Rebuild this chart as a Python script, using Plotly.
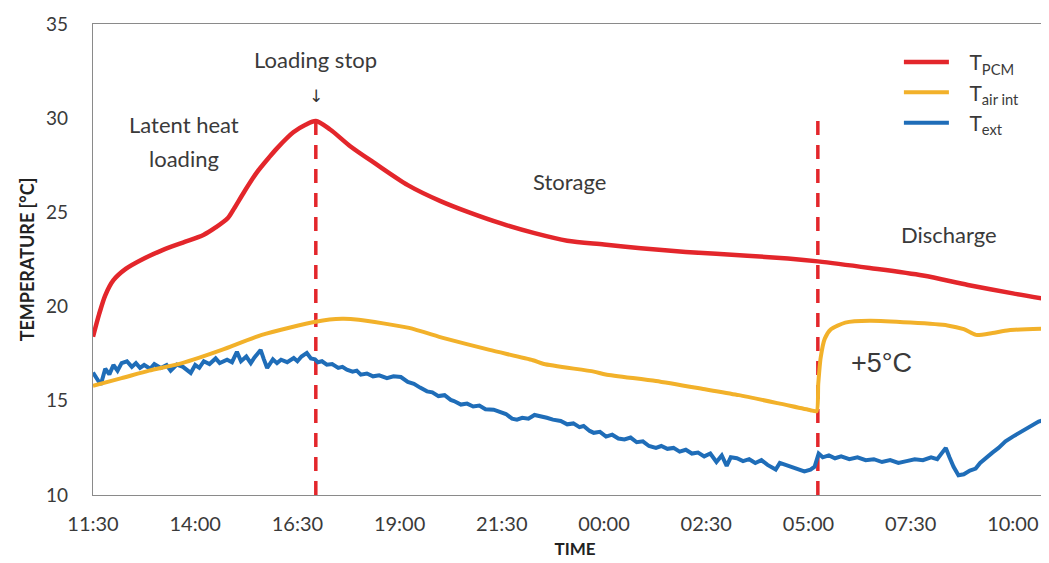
import plotly.graph_objects as go

# ---- data (hours after 11:30) ----
tick_hours = [0, 2.5, 5, 7.5, 10, 12.5, 15, 17.5, 20, 22.5]
tick_labels = ["11:30", "14:00", "16:30", "19:00", "21:30", "00:00", "02:30", "05:00", "07:30", "10:00"]
y_ticks = [10, 15, 20, 25, 30, 35]

pcm_h = [0.0, 0.15, 0.3, 0.5, 0.8, 1.2, 1.7, 2.2, 2.7, 3.0, 3.3, 3.45, 3.7, 4.0, 4.3, 4.5, 4.9, 5.2, 5.45,
         5.8, 6.3, 6.9, 7.7, 8.5, 9.2, 10.0, 10.8, 11.6, 12.5, 13.4, 14.5, 16.0, 17.0, 17.73, 19.0, 20.3,
         21.4, 22.5, 23.6]
pcm_t = [18.4, 19.6, 20.6, 21.4, 22.0, 22.5, 23.0, 23.4, 23.8, 24.2, 24.7, 25.2, 26.1, 27.1, 27.9, 28.4, 29.25, 29.65, 29.85,
         29.4, 28.5, 27.6, 26.45, 25.6, 25.0, 24.4, 23.9, 23.5, 23.3, 23.1, 22.9, 22.7, 22.55, 22.4, 22.05, 21.65,
         21.15, 20.7, 20.3]

air_h = [0.0, 0.7, 1.37, 2.18, 3.15, 4.13, 5.45, 6.09, 6.5, 7.73, 8.58, 9.7, 10.76, 11.03, 12.25, 12.54,
         13.77, 15.0, 15.8, 16.8, 17.55, 17.7, 17.74, 17.8, 17.9, 18.05, 18.4, 19.0, 20.0, 20.9, 21.3, 21.6,
         22.0, 22.4, 23.6]
air_t = [15.8, 16.2, 16.6, 17.0, 17.7, 18.5, 19.2, 19.35, 19.3, 18.87, 18.33, 17.7, 17.15, 16.95, 16.55, 16.4,
         16.05, 15.6, 15.3, 14.85, 14.5, 14.45, 15.9, 17.3, 18.3, 18.8, 19.15, 19.25, 19.15, 19.0, 18.8, 18.5,
         18.6, 18.75, 18.85]

ext_h = [0.0, 0.1, 0.19, 0.3, 0.4, 0.5, 0.6, 0.7, 0.83, 0.95, 1.05, 1.15, 1.25, 1.4, 1.5, 1.66, 1.8, 1.9,
         2.05, 2.2, 2.39, 2.5, 2.6, 2.71, 2.85, 3.0, 3.1, 3.28, 3.4, 3.52, 3.62, 3.75, 3.86, 3.95, 4.1, 4.18,
         4.26, 4.4, 4.5, 4.6, 4.75, 4.91, 5.0, 5.1, 5.23, 5.33, 5.43, 5.5, 5.6, 5.72, 5.85, 6.0, 6.1, 6.21,
         6.35, 6.45, 6.55, 6.7, 6.85, 7.0, 7.19, 7.35, 7.53, 7.7, 7.85, 8.0, 8.17, 8.3, 8.45, 8.6, 8.75, 8.83,
         9.0, 9.15, 9.3, 9.45, 9.6, 9.8, 9.95, 10.1, 10.25, 10.37, 10.5, 10.65, 10.8, 10.95, 11.1, 11.25,
         11.44, 11.6, 11.75, 11.9, 12.0, 12.15, 12.25, 12.4, 12.55, 12.7, 12.85, 13.0, 13.15, 13.3, 13.45,
         13.6, 13.77, 13.9, 14.05, 14.2, 14.35, 14.5, 14.65, 14.8, 14.95, 15.1, 15.25, 15.38, 15.5, 15.6,
         15.75, 15.9, 16.05, 16.2, 16.35, 16.5, 16.7, 16.8, 16.95, 17.1, 17.25, 17.4, 17.55, 17.65, 17.75,
         17.85, 18.0, 18.15, 18.3, 18.5, 18.7, 18.9, 19.1, 19.3, 19.5, 19.7, 19.9, 20.1, 20.3, 20.5, 20.65,
         20.8, 20.86, 20.95, 21.05, 21.17, 21.3, 21.45, 21.59, 21.7, 21.85, 22.0, 22.15, 22.32, 22.5, 22.65,
         22.8, 22.95, 23.13, 23.3, 23.45, 23.6]
ext_t = [16.5, 16.2, 15.85, 16.7, 16.4, 16.9, 16.6, 17.0, 17.1, 16.8, 17.0, 16.75, 16.9, 16.7, 16.95, 16.74, 16.9, 16.6,
         16.92, 16.8, 16.48, 16.9, 16.75, 17.1, 16.95, 17.25, 17.0, 17.18, 17.05, 17.6, 17.1, 17.35, 17.0, 17.3, 17.7, 17.2,
         16.74, 17.2, 17.0, 17.18, 17.05, 17.27, 17.1, 17.35, 17.54, 17.25, 17.2, 17.05, 17.1, 16.92, 16.95, 16.75, 16.8, 16.65,
         16.55, 16.6, 16.39, 16.45, 16.3, 16.35, 16.2, 16.3, 16.26, 16.0, 15.9, 15.7, 15.5, 15.45, 15.25, 15.3, 15.05, 14.99,
         14.8, 14.85, 14.7, 14.75, 14.55, 14.53, 14.4, 14.3, 14.05, 14.0, 14.1, 14.05, 14.25, 14.19, 14.1, 14.0,
         13.93, 13.75, 13.8, 13.6, 13.66, 13.4, 13.3, 13.35, 13.1, 13.2, 13.0, 12.95, 13.05, 12.8, 12.85,
         12.6, 12.5, 12.6, 12.45, 12.5, 12.3, 12.4, 12.2, 12.25, 12.05, 12.2, 11.75, 12.1, 11.55, 12.0,
         11.95, 11.8, 11.9, 11.7, 11.85, 11.6, 11.35, 11.7, 11.6, 11.5, 11.4, 11.25, 11.35, 11.5, 12.2,
         12.0, 12.1, 11.95, 12.05, 11.9, 12.0, 11.85, 11.9, 11.75, 11.85, 11.7, 11.8, 11.9, 11.85, 12.0, 11.9,
         12.3, 12.5, 12.0, 11.5, 11.05, 11.1, 11.3, 11.4, 11.7, 12.0, 12.25, 12.5, 12.85, 13.1, 13.3,
         13.5, 13.7, 13.9, 14.0, 14.3, 14.6]

event_h = [5.45, 17.73]          # loading stop, start of discharge
event_top = 29.85
event_bottom = 10.0

RED = "#E3262B"
YEL = "#F2B12A"
BLU = "#1F6DB8"
TXT = "#3a3a3a"
FONT = "Lato"

fig = go.Figure()

for i, eh in enumerate(event_h):
    fig.add_trace(go.Scatter(x=[eh, eh], y=[event_bottom, event_top], mode="lines",
                             line=dict(color=RED, width=3.5, dash="14px,10px"),
                             showlegend=False, hoverinfo="skip"))

fig.add_trace(go.Scatter(x=ext_h, y=ext_t, mode="lines", name="   T<sub>ext</sub>",
                         line=dict(color=BLU, width=4), legendgroup="c", legendrank=3))
fig.add_trace(go.Scatter(x=air_h, y=air_t, mode="lines", name="   T<sub>air int</sub>",
                         line=dict(color=YEL, width=4, shape="spline", smoothing=0.6),
                         legendgroup="b", legendrank=2))
fig.add_trace(go.Scatter(x=pcm_h, y=pcm_t, mode="lines", name="   T<sub>PCM</sub>",
                         line=dict(color=RED, width=4.5, shape="spline", smoothing=0.8),
                         legendgroup="a", legendrank=1))

ann = [
    dict(x=event_h[0], y=33.1, text="Loading stop", font=dict(size=22)),
    dict(x=event_h[0], y=31.2, text="↓", font=dict(size=17, family="DejaVu Sans", color="#333")),
    dict(x=2.22, y=29.65, text="Latent heat", font=dict(size=22)),
    dict(x=2.22, y=27.85, text="loading", font=dict(size=22)),
    dict(x=11.66, y=26.65, text="Storage", font=dict(size=22)),
    dict(x=20.93, y=23.85, text="Discharge", font=dict(size=22)),
    dict(x=19.29, y=17.0, text="+5°C", font=dict(size=27, family="Liberation Sans")),
]
for a in ann:
    f = dict(family=FONT, color=TXT)
    f.update(a.pop("font"))
    fig.add_annotation(**a, font=f, showarrow=False, xref="x", yref="y")

fig.update_layout(
    width=1049, height=563,
    margin=dict(l=85, r=0, t=16, b=76),
    plot_bgcolor="white", paper_bgcolor="white",
    font=dict(family=FONT, color=TXT),
    legend=dict(x=0.836, y=0.962, xanchor="left", yanchor="top",
                font=dict(size=21, color=TXT), tracegroupgap=19, itemwidth=45,
                bgcolor="rgba(0,0,0,0)", traceorder="normal"),
    xaxis=dict(range=[0, 23.58], tickvals=tick_hours, ticktext=tick_labels, automargin=False,
               showgrid=False, zeroline=False, showline=True, mirror=True,
               linecolor="#8a8a8a", linewidth=1.2, ticks="",
               tickfont=dict(size=20, color=TXT), ticklabelstandoff=11,
               title=dict(text="<b>TIME</b>", font=dict(size=17, color="#222"), standoff=9)),
    yaxis=dict(range=[10, 35], tickvals=y_ticks, showgrid=False, zeroline=False, automargin=False,
               showline=True, linecolor="#8a8a8a", linewidth=1.2, ticks="",
               tickfont=dict(size=19, color=TXT), ticklabelstandoff=20,
               title=dict(text="<b>TEMPERATURE [°C]</b>", font=dict(size=18, color="#222"), standoff=6)),
)

fig.write_html("out.html")
